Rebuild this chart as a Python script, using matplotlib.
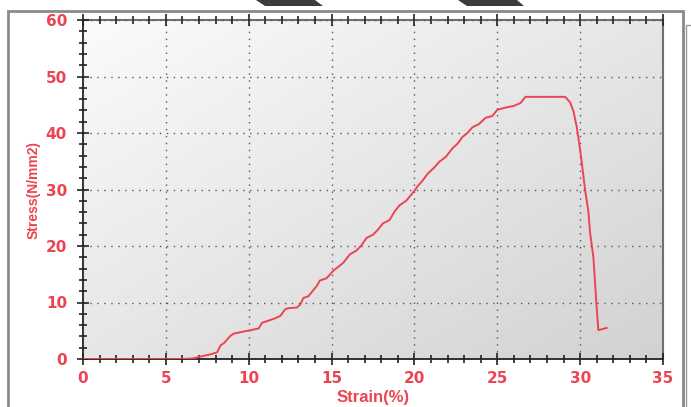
import numpy as np
import matplotlib
matplotlib.use("Agg")
import matplotlib.pyplot as plt
from matplotlib.font_manager import findfont, FontProperties
from matplotlib.patches import Polygon, Rectangle
from matplotlib.ticker import MultipleLocator

# Tensile test record: strain (%) vs stress (N/mm2)
strain = [0.0, 2.0, 4.0, 6.0, 6.6, 7.2, 7.8, 8.1, 8.3, 8.5, 8.9, 9.1, 9.6, 10.1,
          10.6, 10.8, 11.0, 11.5, 11.9, 12.2, 12.4, 12.9, 13.1, 13.3, 13.6, 13.9,
          14.1, 14.3, 14.7, 15.1, 15.4, 15.7, 16.1, 16.5, 16.8, 17.1, 17.5, 17.8,
          18.1, 18.5, 18.8, 19.1, 19.5, 19.9, 20.2, 20.5, 20.8, 21.2, 21.5, 21.9,
          22.3, 22.6, 22.9, 23.2, 23.5, 23.9, 24.3, 24.7, 25.0, 25.5, 26.0, 26.4,
          26.7, 27.5, 28.3, 29.1, 29.4, 29.6, 29.8, 30.0, 30.1, 30.3, 30.5, 30.6,
          30.8, 30.9, 31.0, 31.1, 31.6]
stress = [0.0, 0.0, 0.0, 0.0, 0.1, 0.5, 0.9, 1.2, 2.4, 2.8, 4.1, 4.5, 4.8, 5.1,
          5.4, 6.4, 6.6, 7.1, 7.6, 8.8, 9.0, 9.1, 9.6, 10.8, 11.1, 12.2, 12.9,
          13.9, 14.3, 15.6, 16.3, 17.0, 18.5, 19.2, 20.1, 21.4, 22.0, 22.9, 24.0,
          24.6, 26.1, 27.2, 28.0, 29.4, 30.6, 31.6, 32.8, 33.9, 34.9, 35.8, 37.3,
          38.1, 39.3, 40.0, 41.0, 41.6, 42.7, 43.0, 44.1, 44.5, 44.8, 45.3,
          46.4, 46.4, 46.4, 46.4, 45.4, 43.8, 41.0, 37.0, 34.7, 29.9, 26.0, 22.3,
          18.0, 13.5, 9.0, 5.1, 5.5]

x_ticks = [0, 5, 10, 15, 20, 25, 30, 35]
y_ticks = [0, 10, 20, 30, 40, 50, 60]

W, H = 691, 407
RED = "#ec4452"
fig = plt.figure(figsize=(W / 100, H / 100), dpi=100)
fig.patch.set_facecolor("white")

# outer panel frame
fig.add_artist(Rectangle((8 / W, -0.05), (683 - 8) / W, 1.05 - 11 / H,
                         transform=fig.transFigure, fill=False,
                         edgecolor="#8a8a8a", lw=2.0))
fig.add_artist(Rectangle((686 / W, -0.05), 0.1, 1.05 - 25 / H,
                         transform=fig.transFigure, fill=False,
                         edgecolor="#9a9a9a", lw=1.0))

# dark tabs on the top edge
for pts in ([(256, 0), (315, 0), (323, 6), (265, 6)],
            [(458, 0), (517, 0), (524, 6), (467, 6)]):
    fig.add_artist(Polygon([(px / W, 1 - py / H) for px, py in pts],
                           closed=True, transform=fig.transFigure,
                           facecolor="#3c3c3c", edgecolor="none"))

left, right, top, bottom = 83, 663, 20, 359
ax = fig.add_axes([left / W, 1 - bottom / H, (right - left) / W, (bottom - top) / H])
ax.set_xlim(0, 35)
ax.set_ylim(0, 60)

# diagonal grey gradient background
gx, gy = np.meshgrid(np.linspace(0, 1, 200), np.linspace(0, 1, 200))
shade = 0.5 * gx + 0.5 * gy
ax.imshow(shade, extent=(0, 35, 0, 60), aspect="auto", origin="upper",
          cmap=matplotlib.colors.LinearSegmentedColormap.from_list(
              "bg", ["#fbfbfb", "#d2d2d2"]), zorder=0, vmin=0, vmax=1)

ax.grid(True, which="major", color="#555555", linestyle=(0, (1, 4)), lw=1.0)
ax.set_axisbelow(False)

ax.plot(strain, stress, color=RED, lw=1.4, zorder=3)

ax.xaxis.set_minor_locator(MultipleLocator(1))
ax.yaxis.set_minor_locator(MultipleLocator(2))
ax.set_xticks(x_ticks)
ax.set_yticks(y_ticks)
ax.tick_params(which="both", direction="inout", color="#222222", width=1.2,
               top=True, labeltop=False, right=False)
ax.tick_params(which="major", length=9)
ax.tick_params(which="minor", length=6)
ax.tick_params(axis="both", which="major", labelsize=11, labelcolor=RED)
ax.tick_params(axis="x", which="major", pad=4)
ax.tick_params(axis="y", which="major", pad=7)
for lab in ax.get_xticklabels() + ax.get_yticklabels():
    lab.set_fontweight("bold")

for side in ("left", "bottom"):
    ax.spines[side].set_color("#222222")
    ax.spines[side].set_linewidth(1.3)
for side in ("top", "right"):
    ax.spines[side].set_color("#707070")
    ax.spines[side].set_linewidth(1.5)

narrow = FontProperties(family="Liberation Sans Narrow", weight="bold")
narrow_ok = "Narrow" in findfont(narrow, fallback_to_default=True)
ylab_family = "Liberation Sans Narrow" if narrow_ok else "Liberation Sans"
ylab_size = 11 if narrow_ok else 10

ax.set_xlabel("Strain(%)", color=RED, fontweight="bold", fontsize=12,
              family="Liberation Sans", labelpad=3)
ax.set_ylabel("Stress(N/mm2)", color=RED, fontweight="bold", fontsize=ylab_size,
              family=ylab_family, labelpad=4)

fig.savefig("out.png", dpi=100)
